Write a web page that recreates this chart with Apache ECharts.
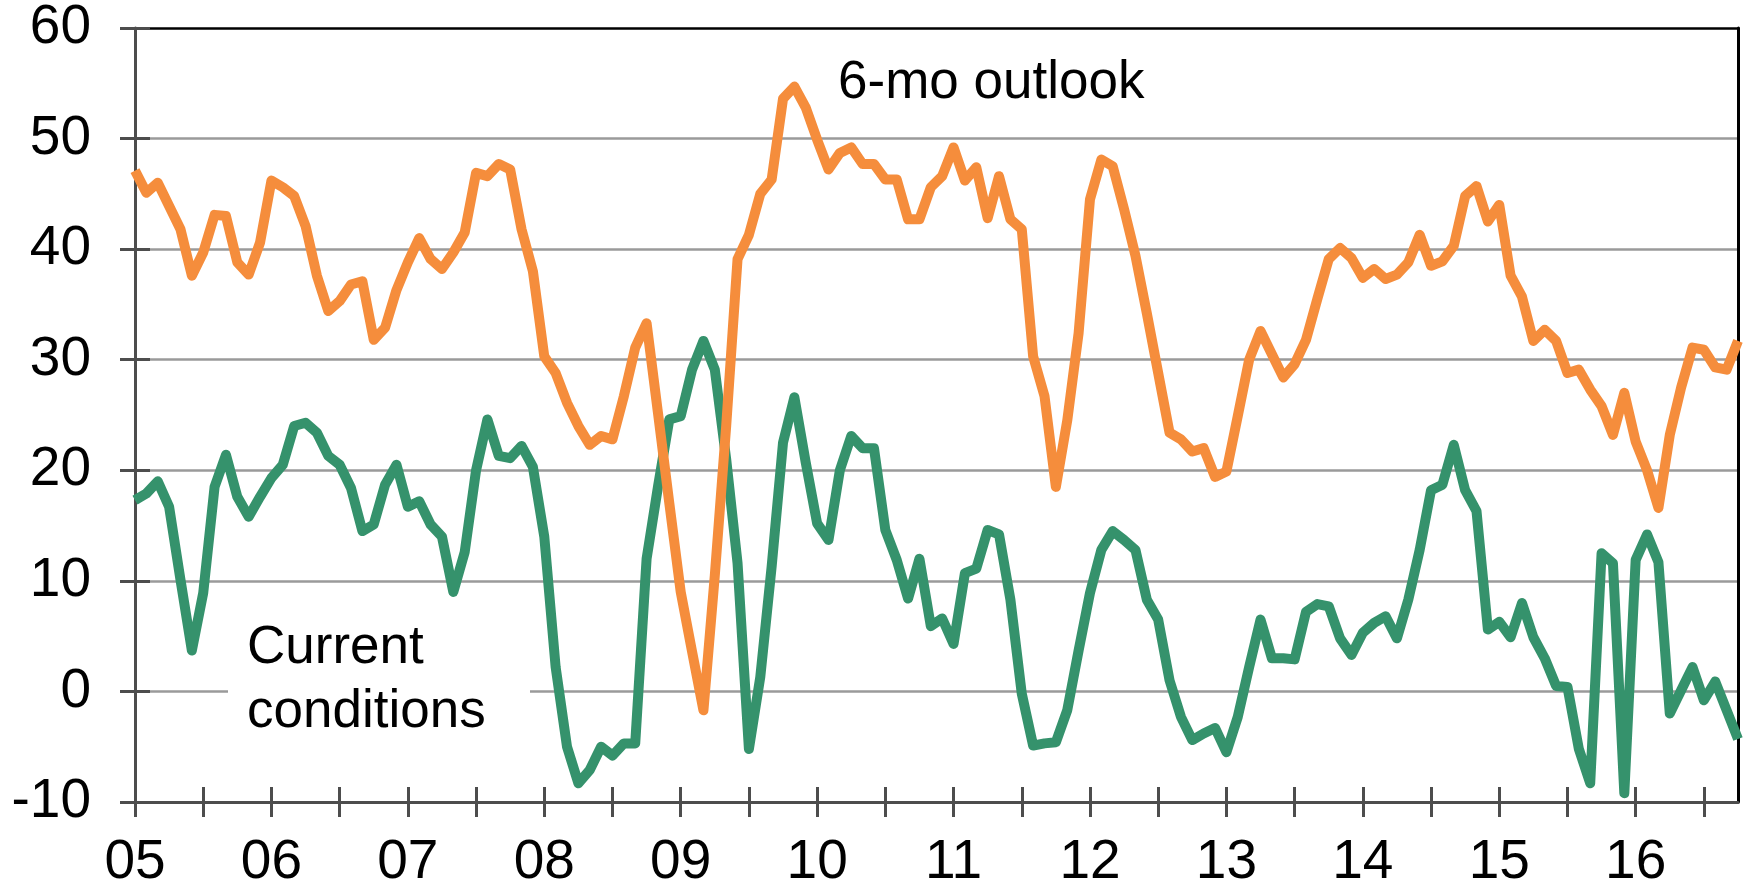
<!DOCTYPE html>
<html>
<head>
<meta charset="utf-8">
<script src="https://cdn.jsdelivr.net/npm/echarts@6/dist/echarts.min.js"></script>
<style>
  html, body { margin: 0; padding: 0; background: #fff; }
  #chart { width: 1747px; height: 890px; }
</style>
</head>
<body>
<div id="chart"></div>
<script>
// monthly, Jan 2005 .. Oct 2016
const startYear = 2005;
const monthCount = 142;
const months = [];
for (let i = 0; i < monthCount; i++) {
  const y = startYear + Math.floor(i / 12);
  const m = (i % 12) + 1;
  months.push(String(y).slice(2) + '-' + String(m).padStart(2, '0'));
}

// 6-mo outlook (orange)
const outlook = [
  47.1, 45.1, 46.0, 43.9, 41.8, 37.6, 39.7, 43.1, 43.0, 38.8, 37.7, 40.6,
  46.2, 45.6, 44.8, 42.1, 37.6, 34.4, 35.3, 36.8, 37.1, 31.8, 32.9, 36.3,
  38.8, 41.0, 39.1, 38.2, 39.7, 41.5, 46.9, 46.6, 47.7, 47.2, 41.8, 38.0,
  30.3, 28.8, 26.1, 24.0, 22.3, 23.1, 22.8, 26.7, 31.1, 33.3, 25.2, 17.0,
  9.0, 3.6, -1.7, 10.5, 24.0, 39.1, 41.3, 45.0, 46.3, 53.6, 54.7, 52.8,
  49.9, 47.2, 48.7, 49.2, 47.7, 47.7, 46.3, 46.3, 42.7, 42.7, 45.6, 46.6,
  49.2, 46.2, 47.4, 42.8, 46.6, 42.7, 41.8, 30.3, 26.7, 18.5, 24.5, 32.4,
  44.5, 48.1, 47.5, 43.6, 39.4, 34.2, 28.8, 23.4, 22.8, 21.7, 22.0, 19.4,
  19.9, 24.9, 30.0, 32.6, 30.5, 28.4, 29.6, 31.8, 35.5, 39.1, 40.1, 39.2,
  37.4, 38.2, 37.3, 37.7, 38.8, 41.3, 38.5, 38.9, 40.3, 44.8, 45.7, 42.5,
  44.0, 37.6, 35.7, 31.7, 32.7, 31.7, 28.8, 29.1, 27.3, 25.8, 23.2, 27.0,
  22.6, 20.0, 16.6, 23.2, 27.5, 31.1, 30.9, 29.3, 29.1, 31.7
];

// Current conditions (green)
const current = [
  17.3, 17.9, 19.0, 16.7, 10.1, 3.7, 8.9, 18.5, 21.4, 17.6, 15.8, 17.6,
  19.3, 20.5, 24.0, 24.3, 23.4, 21.3, 20.5, 18.4, 14.5, 15.1, 18.7, 20.5,
  16.7, 17.2, 15.1, 14.0, 9.0, 12.6, 20.0, 24.6, 21.3, 21.1, 22.2, 20.3,
  14.0, 2.2, -5.0, -8.3, -7.1, -5.0, -5.8, -4.7, -4.7, 12.0, 18.5, 24.6,
  24.9, 29.1, 31.7, 29.1, 21.0, 11.6, -5.2, 1.3, 11.3, 22.5, 26.6, 20.7,
  15.2, 13.7, 20.0, 23.1, 22.0, 22.0, 14.6, 11.9, 8.4, 12.0, 5.9, 6.6,
  4.3, 10.7, 11.1, 14.6, 14.2, 8.3, -0.2, -4.9, -4.7, -4.6, -1.7, 3.7,
  8.9, 12.8, 14.5, 13.7, 12.8, 8.3, 6.5, 1.0, -2.3, -4.4, -3.8, -3.3,
  -5.5, -2.3, 2.2, 6.5, 3.0, 3.0, 2.9, 7.2, 7.9, 7.7, 4.8, 3.3,
  5.3, 6.2, 6.8, 4.8, 8.3, 12.8, 18.2, 18.7, 22.3, 18.2, 16.3, 5.6,
  6.3, 4.9, 8.0, 4.9, 3.0, 0.5, 0.4, -5.2, -8.3, 12.5, 11.6, -9.2,
  11.9, 14.2, 11.7, -2.0, 0.1, 2.2, -0.8, 0.9, -1.7, -4.3
];

const yMin = -10, yMax = 60, yStep = 10;

const FONT = 'Liberation Sans, Arial, sans-serif';
const AXIS_GREY = '#4d4d4d';
const GRID_GREY = '#9a9a9a';

const chart = echarts.init(document.getElementById('chart'));

const catAxisBase = {
  type: 'category',
  data: months,
  boundaryGap: false,
  position: 'bottom',
  splitLine: { show: false }
};
const valAxisBase = {
  type: 'value',
  min: yMin,
  max: yMax,
  interval: yStep
};

chart.setOption({
  animation: false,
  backgroundColor: '#fff',
  grid: { left: 135, right: 9, top: 28, bottom: 88, containLabel: false },
  xAxis: [
    Object.assign({}, catAxisBase, {
      axisLine: { onZero: false, lineStyle: { color: AXIS_GREY, width: 3 } },
      axisTick: { interval: 5, length: 15, lineStyle: { color: AXIS_GREY, width: 3 } },
      axisLabel: {
        interval: 11,
        formatter: v => v.slice(0, 2),
        fontSize: 55, color: '#000', fontFamily: FONT, margin: 33
      }
    }),
    // inner half of the crossing ticks
    Object.assign({}, catAxisBase, {
      axisLine: { show: false, onZero: false },
      axisTick: { interval: 5, length: 15, inside: true, lineStyle: { color: AXIS_GREY, width: 3 } },
      axisLabel: { show: false }
    })
  ],
  yAxis: [
    Object.assign({}, valAxisBase, {
      position: 'left',
      axisLine: { show: true, lineStyle: { color: AXIS_GREY, width: 3 } },
      axisTick: { show: true, length: 15, lineStyle: { color: AXIS_GREY, width: 3 } },
      axisLabel: { fontSize: 55, color: '#000', fontFamily: FONT, margin: 44 },
      splitLine: {
        show: true,
        lineStyle: {
          color: [AXIS_GREY, GRID_GREY, GRID_GREY, GRID_GREY, GRID_GREY, GRID_GREY, GRID_GREY, '#000'],
          width: 2.5
        }
      }
    }),
    Object.assign({}, valAxisBase, {
      position: 'left',
      axisLine: { show: false },
      axisTick: { show: true, inside: true, length: 15, lineStyle: { color: AXIS_GREY, width: 3 } },
      axisLabel: { show: false },
      splitLine: { show: false }
    }),
    // right border of the plot
    Object.assign({}, valAxisBase, {
      position: 'right',
      axisLine: { show: true, lineStyle: { color: '#000', width: 3 } },
      axisTick: { show: false },
      axisLabel: { show: false },
      splitLine: { show: false }
    })
  ],
  graphic: [
    // white patch that breaks the zero line behind the label
    {
      type: 'rect', z: 1,
      shape: { x: 228, y: 620, width: 302, height: 125 },
      style: { fill: '#fff' }
    },
    {
      type: 'text', z: 5,
      style: { text: 'Current', x: 247, y: 648, font: '53px ' + FONT, fill: '#000', verticalAlign: 'middle' }
    },
    {
      type: 'text', z: 5,
      style: { text: 'conditions', x: 247, y: 712, font: '53px ' + FONT, fill: '#000', verticalAlign: 'middle' }
    },
    {
      type: 'text', z: 5,
      style: { text: '6-mo outlook', x: 838, y: 83, font: '53px ' + FONT, fill: '#000', verticalAlign: 'middle' }
    }
  ],
  series: [
    {
      name: 'Current conditions',
      type: 'line',
      data: current,
      showSymbol: false,
      lineStyle: { color: '#35926c', width: 10, join: 'round' },
      z: 3
    },
    {
      name: '6-mo outlook',
      type: 'line',
      data: outlook,
      showSymbol: false,
      lineStyle: { color: '#f58d3c', width: 10, join: 'round' },
      z: 4
    }
  ]
});
</script>
</body>
</html>
